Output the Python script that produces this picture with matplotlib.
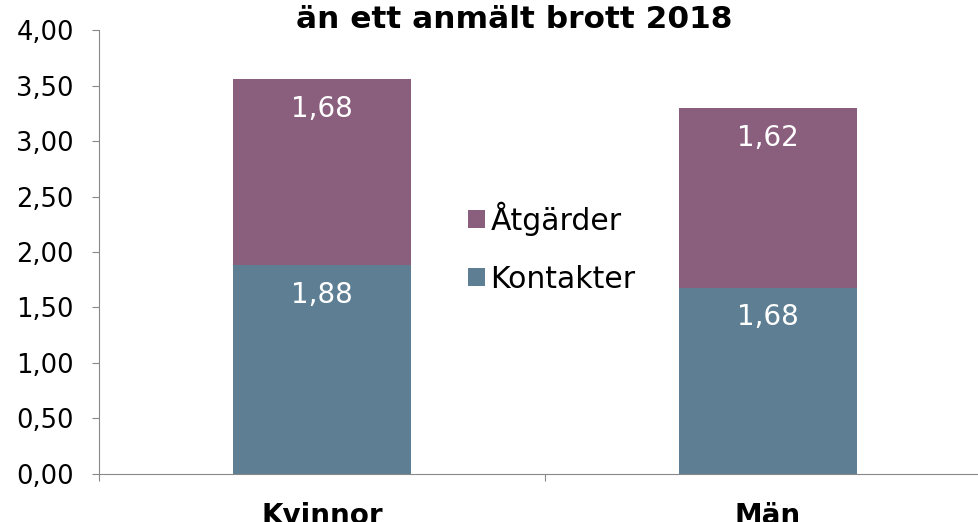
import numpy as np
import matplotlib.pyplot as plt

# %% data
groups = ["Kvinnor", "Män"]
kontakter = [1.88, 1.68]
atgarder = [1.68, 1.62]
yticks = [0, 0.5, 1.0, 1.5, 2.0, 2.5, 3.0, 3.5, 4.0]

c_kont = "#5E7F93"
c_atg = "#8A5F7E"

# %% plot
fig = plt.figure(figsize=(9.79, 5.22), dpi=100)
ax = fig.add_axes([0.101, 0.092, 0.911, 0.8505])

x = np.arange(len(groups))
ax.bar(x, kontakter, width=0.4, color=c_kont, label="Kontakter")
ax.bar(x, atgarder, width=0.4, bottom=kontakter, color=c_atg, label="Åtgärder")

# labels sit near the inside end of each segment
off = 0.27
for k in range(len(groups)):
    ax.text(x[k], kontakter[k] - off, ("%.2f" % kontakter[k]).replace(".", ","),
            ha="center", va="center", color="white", fontsize=20)
    ax.text(x[k], kontakter[k] + atgarder[k] - off, ("%.2f" % atgarder[k]).replace(".", ","),
            ha="center", va="center", color="white", fontsize=20)

ax.set_xlim(-0.5, 1.5)
ax.set_ylim(0, 4)
ax.set_yticks(yticks)
ax.set_yticklabels([("%.2f" % v).replace(".", ",") for v in yticks], fontsize=18.5)
ax.set_xticks([-0.5, 0.5, 1.5], minor=False)
ax.set_xticklabels([])
ax.set_xticks(x, minor=True)
ax.set_xticklabels(groups, minor=True, fontsize=20, fontweight="bold")
ax.tick_params(axis="x", which="minor", length=0, pad=20)
ax.tick_params(axis="x", which="major", length=5, color="#888888")
ax.tick_params(axis="y", length=5, pad=13, color="#888888")
for s in ["top", "right"]:
    ax.spines[s].set_visible(False)
for s in ["left", "bottom"]:
    ax.spines[s].set_color("#888888")

h, l = ax.get_legend_handles_labels()
ax.legend(h[::-1], l[::-1], loc="center", bbox_to_anchor=(0.508, 0.51), frameon=False,
          fontsize=21.5, handlelength=0.55, handleheight=0.55, handletextpad=0.2,
          labelspacing=0.98)

fig.text(0.525, 0.947, "än ett anmält brott 2018", ha="center", va="baseline",
         fontsize=22.5, fontweight="bold")

plt.savefig("out.png", dpi=100)
